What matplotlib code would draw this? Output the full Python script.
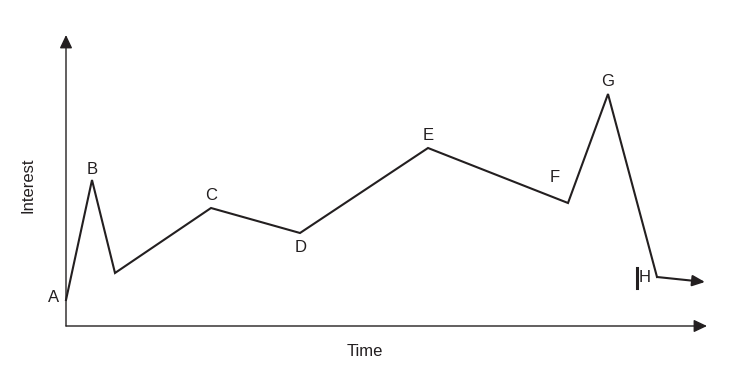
import matplotlib
matplotlib.use("Agg")
import matplotlib.pyplot as plt

plt.rcParams['font.family'] = ['Liberation Sans', 'DejaVu Sans']

# curve points (time, interest) in arbitrary units
time = [0, 26, 49, 145, 234, 362, 502, 542, 591, 639]
interest = [26, 146, 53, 118, 93, 178, 123, 232, 49, 44]
labels = ["A", "B", "", "C", "D", "E", "F", "G", "H", ""]
label_pos = {"A": (-12, 28), "B": (26, 157), "C": (145, 130), "D": (235, 79),
             "E": (362, 191), "F": (489, 148), "G": (542, 245), "H": (579, 48)}

fig = plt.figure(figsize=(7.39, 3.69), dpi=100)
ax = fig.add_axes([0, 0, 1, 1])
ax.set_xlim(-66, 673)
ax.set_ylim(-43, 326)
ax.axis("off")

col = "#231f20"
astyle = "-|>,head_length=0.8,head_width=0.38"
# axes with arrows
ax.annotate("", xy=(0, 291), xytext=(0, 0),
            arrowprops=dict(arrowstyle=astyle, color=col, lw=1.0, shrinkA=0, shrinkB=0))
ax.annotate("", xy=(641, 0), xytext=(0, 0),
            arrowprops=dict(arrowstyle=astyle, color=col, lw=1.0, shrinkA=0, shrinkB=0))

# curve
ax.plot(time[:-1], interest[:-1], color=col, lw=1.5, solid_joinstyle="miter")
ax.annotate("", xy=(time[-1], interest[-1]), xytext=(time[-2], interest[-2]),
            arrowprops=dict(arrowstyle="-|>,head_length=0.75,head_width=0.33",
                            color=col, lw=1.5, shrinkA=0, shrinkB=0))

for lab in labels:
    if lab:
        x, y = label_pos[lab]
        ax.text(x, y, lab, fontsize=12, color=col, ha="center", va="center")

# small bar next to H
ax.plot([571, 571], [38, 58], color=col, lw=2.2)

ax.text(299, -25, "Time", fontsize=12, color=col, ha="center", va="center")
ax.text(-38, 141, "Interest", fontsize=12, color=col, ha="center", va="center", rotation=90)

fig.savefig("out.png", dpi=100)
